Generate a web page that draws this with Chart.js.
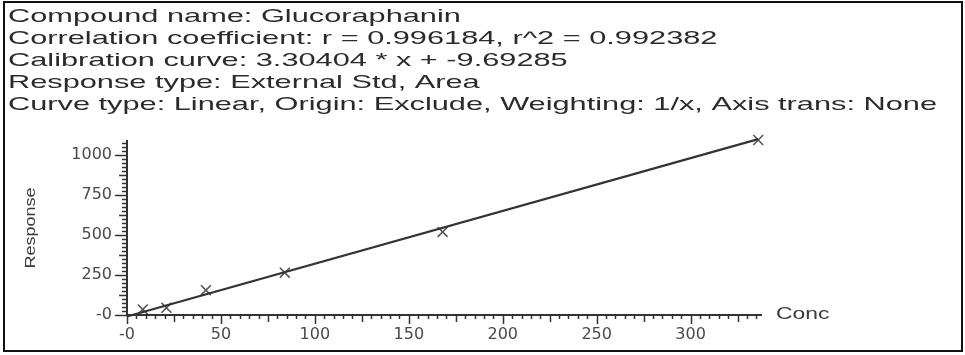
<!DOCTYPE html>
<html>
<head>
<meta charset="utf-8">
<script src="https://cdn.jsdelivr.net/npm/chart.js@4.4.1/dist/chart.umd.min.js"></script>
<style>
  html, body { margin: 0; padding: 0; background: #fff; }
  #wrap { width: 965px; height: 355px; position: relative; }
</style>
</head>
<body>
<div id="wrap"><canvas id="calChart" width="965" height="355"></canvas></div>
<script>
/* =========================
========================= */
const headerLines = [
    'Compound name: Glucoraphanin',
    'Correlation coefficient: r = 0.996184, r^2 = 0.992382',
    'Calibration curve: 3.30404 * x + -9.69285',
    'Response type: External Std, Area',
    'Curve type: Linear, Origin: Exclude, Weighting: 1/x, Axis trans: None'
];
const concLevels = [8.4, 21, 42, 84, 168, 336];
const responses = [35, 45, 155, 265, 520, 1095];
const fitX = [0, 336];
const fitY = [-9.69, 1100.5];
const xRange = [0, 338];
const yRange = [0, 1095];
const xTitle = 'Conc';
const yTitle = 'Response';

/* =========================
    Plugin: frame, header text, axes with minor ticks
========================= */
const reportPlugin = {
    id: 'reportPlugin',
    beforeDraw(chart) {
        const ctx = chart.ctx;
        ctx.save();
        ctx.fillStyle = '#fff';
        ctx.fillRect(0, 0, chart.width, chart.height);
        ctx.restore();
    },
    afterDraw(chart) {
        const ctx = chart.ctx;
        const xs = chart.scales.x;
        const ys = chart.scales.y;
        const x0 = xs.getPixelForValue(0);
        const y0 = ys.getPixelForValue(0);

        ctx.save();
        // outer frame
        ctx.strokeStyle = '#111';
        ctx.lineWidth = 2;
        ctx.strokeRect(4, 2, 958, 349);

        // header text, stretched like the original export
        ctx.fillStyle = '#2b2b2b';
        ctx.font = '19px "Liberation Sans", Arial, sans-serif';
        ctx.textBaseline = 'alphabetic';
        const longest = ctx.measureText(headerLines[4]).width;
        const sx = 929 / longest;
        headerLines.forEach((txt, i) => {
            ctx.save();
            ctx.translate(8, 22 + i * 22);
            ctx.scale(sx, 1);
            ctx.fillText(txt, 0, 0);
            ctx.restore();
        });

        // axis lines
        ctx.strokeStyle = '#333';
        ctx.lineWidth = 2;
        ctx.beginPath();
        ctx.moveTo(x0, ys.getPixelForValue(yRange[1]));
        ctx.lineTo(x0, y0);
        ctx.lineTo(xs.getPixelForValue(xRange[1]), y0);
        ctx.stroke();

        // y ticks: minor 25, medium 125, major 250
        ctx.lineWidth = 1.5;
        ctx.beginPath();
        for (let v = 0; v <= yRange[1]; v += 25) {
            const py = Math.round(ys.getPixelForValue(v)) + 0.5;
            const len = v % 250 === 0 ? 12 : (v % 125 === 0 ? 8 : 5);
            ctx.moveTo(x0, py);
            ctx.lineTo(x0 - len, py);
        }
        // x ticks: minor 5, medium 25, major 50
        for (let v = 0; v <= xRange[1]; v += 5) {
            const px = Math.round(xs.getPixelForValue(v)) + 0.5;
            const len = v % 50 === 0 ? 9 : (v % 25 === 0 ? 7 : 4);
            ctx.moveTo(px, y0);
            ctx.lineTo(px, y0 + len);
        }
        ctx.stroke();

        // axis titles
        ctx.fillStyle = '#3a3a3a';
        ctx.font = '17px "Liberation Sans", Arial, sans-serif';
        ctx.save();
        ctx.translate(776, y0 - 1);
        ctx.scale(1.35, 1);
        ctx.textBaseline = 'middle';
        ctx.fillText(xTitle, 0, 0);
        ctx.restore();

        ctx.save();
        ctx.translate(31, 228);
        ctx.rotate(-Math.PI / 2);
        ctx.scale(1.2, 1);
        ctx.textAlign = 'center';
        ctx.textBaseline = 'middle';
        ctx.font = '15px "Liberation Sans", Arial, sans-serif';
        ctx.fillText(yTitle, 0, 0);
        ctx.restore();
        ctx.restore();
    }
};

/* =========================
    Chart
========================= */
const ctx = document.getElementById('calChart').getContext('2d');
const zeroLabel = v => (v === 0 ? '-0' : v);

new Chart(ctx, {
    type: 'scatter',
    data: {
        datasets: [
            {
                label: 'Fit',
                type: 'line',
                data: fitX.map((x, i) => ({ x: x, y: fitY[i] })),
                borderColor: '#333',
                borderWidth: 2.2,
                pointRadius: 0,
                fill: false,
                clip: false
            },
            {
                label: 'Standards',
                data: concLevels.map((x, i) => ({ x: x, y: responses[i] })),
                pointStyle: 'crossRot',
                pointRadius: 7,
                borderColor: '#555',
                borderWidth: 1.6,
                backgroundColor: '#555',
                clip: false
            }
        ]
    },
    options: {
        responsive: false,
        animation: false,
        layout: { padding: { left: 0, top: 140, right: 203, bottom: 0 } },
        plugins: { legend: { display: false }, tooltip: { enabled: false } },
        scales: {
            x: {
                type: 'linear',
                min: xRange[0],
                max: xRange[1],
                grid: { display: false, drawTicks: false },
                border: { display: false },
                ticks: {
                    stepSize: 50,
                    includeBounds: false,
                    padding: 10,
                    color: '#4a4a4a',
                    font: { family: 'DejaVu Sans', size: 16 },
                    maxRotation: 0,
                    callback: zeroLabel
                },
                afterFit(scale) { scale.height = 40; }
            },
            y: {
                type: 'linear',
                min: yRange[0],
                max: yRange[1],
                grid: { display: false, drawTicks: false },
                border: { display: false },
                ticks: {
                    stepSize: 250,
                    includeBounds: false,
                    padding: 15,
                    color: '#4a4a4a',
                    font: { family: 'DejaVu Sans', size: 16 },
                    callback: zeroLabel
                },
                afterFit(scale) { scale.width = 127; }
            }
        }
    },
    plugins: [reportPlugin]
});
</script>
</body>
</html>
